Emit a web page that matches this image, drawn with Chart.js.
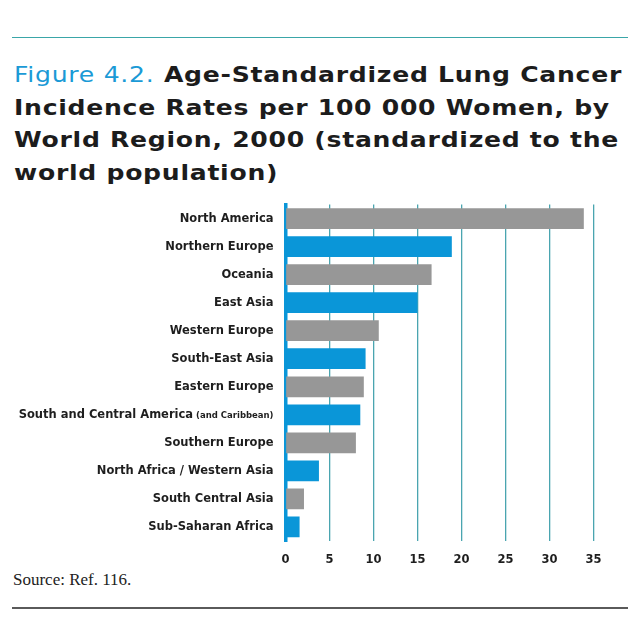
<!DOCTYPE html>
<html>
<head>
<meta charset="utf-8">
<script src="https://cdn.jsdelivr.net/npm/chart.js@4.4.0/dist/chart.umd.min.js"></script>
<style>
  html, body { margin: 0; padding: 0; background: #fff; }
  #page { position: relative; width: 640px; height: 639px; overflow: hidden; }
  .rule-top { position: absolute; left: 12px; top: 37px; width: 616px; height: 1px; background: #3aa6a8; }
  .rule-bottom { position: absolute; left: 12px; top: 607px; width: 616px; height: 2px; background: #5a5a5a; }
  #title { position: absolute; left: 14px; top: 59px; white-space: nowrap; transform-origin: 0 0;
           font-family: "DejaVu Sans", sans-serif; font-size: 21px; line-height: 32.5px;
           font-weight: bold; color: #1c1c1c; letter-spacing: 0.6px; }
  #title .fig { color: #1a9ad6; font-weight: normal; }
  #source { position: absolute; left: 13px; top: 570px; font-family: "Liberation Serif", serif; font-size: 17px; color: #222; }
  #chartBox { position: absolute; left: 0; top: 195px; width: 640px; height: 375px; }
</style>
</head>
<body>
<div id="page">
  <div class="rule-top"></div>
  <div id="title"><span id="line1"><span class="fig">Figure 4.2.</span> Age-Standardized Lung Cancer</span><br>Incidence Rates per 100 000 Women, by<br>World Region, 2000 (standardized to the<br>world population)</div>
  <div id="chartBox"><canvas id="lungChart"></canvas></div>
  <div id="source">Source: Ref. 116.</div>
  <div class="rule-bottom"></div>
</div>
<script>
// regiony a hodnoty
var regions = ['North America', 'Northern Europe', 'Oceania', 'East Asia', 'Western Europe', 'South-East Asia',
               'Eastern Europe', 'South and Central America', 'Southern Europe', 'North Africa / Western Asia',
               'South Central Asia', 'Sub-Saharan Africa'];
var regionNotes = ['', '', '', '', '', '', '', '(and Caribbean)', '', '', '', ''];
var rates = [33.9, 18.9, 16.6, 15.0, 10.6, 9.1, 8.9, 8.5, 8.0, 3.8, 2.1, 1.6];
var xTicks = [0, 5, 10, 15, 20, 25, 30, 35];

var BLUE = '#0a96d8';
var GREY = '#979797';
var TEAL = '#4aa5b0';
var labelFont = 'bold 11.5px "DejaVu Sans", sans-serif';

// titulek je v originále široké písmo - roztáhneme ho na šířku prvního řádku
var line1 = document.getElementById('line1');
var title = document.getElementById('title');
title.style.transform = 'scaleX(' + (608 / line1.getBoundingClientRect().width) + ')';

// popisky kategorií kreslíme sami kvůli menšímu písmu u "(and Caribbean)"
var regionLabels = {
    id: 'regionLabels',
    afterDraw: function (chart) {
        var ctx = chart.ctx;
        var yScale = chart.scales.y;
        var right = chart.chartArea.left - 12;
        ctx.save();
        ctx.fillStyle = '#1e1e1e';
        ctx.textBaseline = 'middle';
        ctx.textAlign = 'right';
        regions.forEach(function (name, i) {
            var y = yScale.getPixelForValue(i);
            var x = right;
            if (regionNotes[i]) {
                ctx.font = 'bold 8.5px "DejaVu Sans", sans-serif';
                ctx.fillText(regionNotes[i], x, y + 1);
                x -= ctx.measureText(regionNotes[i]).width + 3;
            }
            ctx.font = labelFont;
            ctx.fillText(name, x, y);
        });
        ctx.restore();
    }
};

var ctx = document.getElementById('lungChart').getContext('2d');
var lungChart = new Chart(ctx, {
    type: 'bar',
    data: {
        labels: regions,
        datasets: [{
            data: rates,
            backgroundColor: rates.map(function (v, i) { return i % 2 === 0 ? GREY : BLUE; }),
            borderWidth: 0,
            barPercentage: 0.74,
            categoryPercentage: 1.0
        }]
    },
    options: {
        indexAxis: 'y',
        responsive: true,
        maintainAspectRatio: false,
        animation: false,
        layout: { padding: { top: 9.5, right: 46.5, left: 0, bottom: 0 } },
        plugins: { legend: { display: false }, tooltip: { enabled: false } },
        scales: {
            x: {
                min: 0,
                max: 35,
                afterBuildTicks: function (scale) {
                    scale.ticks = xTicks.map(function (v) { return { value: v }; });
                },
                grid: {
                    color: function (c) { return c.tick && c.tick.value === 0 ? 'rgba(0,0,0,0)' : TEAL; },
                    lineWidth: 1.3,
                    drawTicks: false
                },
                border: { display: false },
                ticks: {
                    color: '#1e1e1e',
                    font: { family: '"DejaVu Sans", sans-serif', size: 11.5, weight: 'bold' },
                    padding: 12,
                    maxRotation: 0
                },
                afterFit: function (scale) { scale.height = 29; }
            },
            y: {
                grid: { display: false, drawTicks: false },
                border: { display: true, color: BLUE, width: 3.5 },
                ticks: { display: false },
                afterFit: function (scale) { scale.width = 285.5; }
            }
        }
    },
    plugins: [regionLabels]
});
</script>
</body>
</html>
